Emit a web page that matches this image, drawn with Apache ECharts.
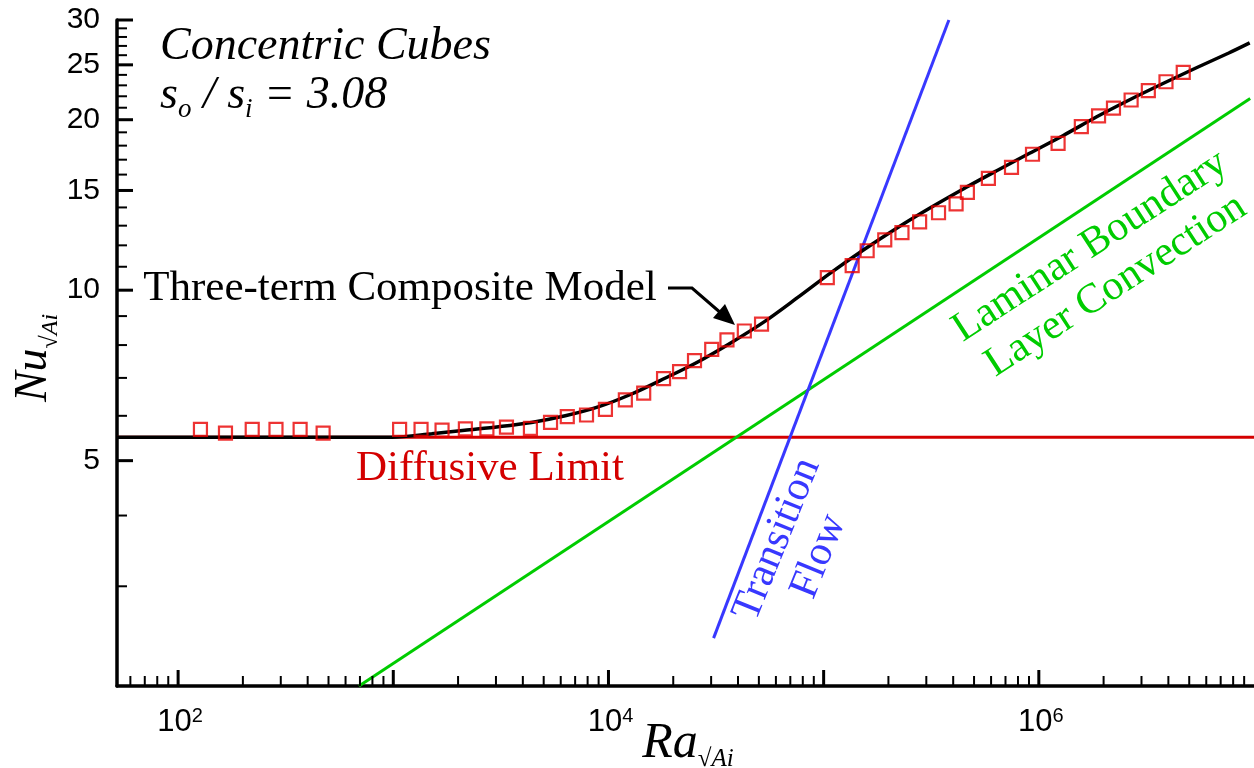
<!DOCTYPE html>
<html><head><meta charset="utf-8">
<script src="https://cdn.jsdelivr.net/npm/echarts@6/dist/echarts.min.js"></script>
<style>html,body{margin:0;padding:0;background:#fff}#c{width:1254px;height:768px}</style>
</head><body><div id="c"></div>
<script>
// ---- data ----
const dataRa = [127, 166, 221, 285, 369, 472, 1070, 1346, 1685, 2163, 2723, 3357, 4338, 5380, 6436, 7907, 9680, 11980, 14580, 18030, 21400, 25110, 30190, 35540, 42790, 51450, 104000, 135700, 159300, 192300, 231200, 279300, 341900, 412600, 465600, 583000, 746500, 934600, 1229000, 1576000, 1895000, 2223000, 2685000, 3228000, 3899000, 4690000];
const dataNu = [5.68, 5.59, 5.68, 5.68, 5.68, 5.59, 5.68, 5.68, 5.66, 5.69, 5.69, 5.73, 5.70, 5.84, 5.98, 6.02, 6.16, 6.40, 6.58, 6.98, 7.18, 7.51, 7.86, 8.17, 8.47, 8.71, 10.52, 11.05, 11.74, 12.27, 12.64, 13.20, 13.70, 14.20, 14.89, 15.76, 16.48, 17.38, 18.17, 19.44, 20.31, 20.96, 21.67, 22.51, 23.34, 24.25];

const modelRa = [52, 215, 986, 1510, 2148, 3084, 4385, 6300, 8955, 12730, 18290, 26000, 36980, 53090, 75510, 107400, 154200, 219300, 311900, 447800, 636800, 905500, 1300000, 1849000, 2630000, 3776000, 5370000, 7635000, 9550000];
const modelNu = [5.5, 5.5, 5.5, 5.58, 5.66, 5.74, 5.84, 6.0, 6.22, 6.55, 6.99, 7.47, 8.07, 8.80, 9.70, 10.72, 11.80, 12.88, 13.97, 15.11, 16.25, 17.45, 18.76, 20.22, 21.67, 23.17, 24.68, 26.23, 27.33];

const diffusiveRa = [52, 10000000];
const diffusiveNu = [5.5, 5.5];
const laminarRa = [693, 9600000];
const laminarNu = [2, 21.8];
const transitionRa = [30800, 382000];
const transitionNu = [2.43, 30];

// ---- axes / ticks ----
const X_MIN = 52, X_MAX = 10000000, Y_MIN = 2, Y_MAX = 30;
const xMajorTicks = [100, 1000, 10000, 100000, 1000000];
const xMinorTicks = [60, 70, 80, 90,
  200, 300, 400, 500, 600, 700, 800, 900,
  2000, 3000, 4000, 5000, 6000, 7000, 8000, 9000,
  20000, 30000, 40000, 50000, 60000, 70000, 80000, 90000,
  200000, 300000, 400000, 500000, 600000, 700000, 800000, 900000,
  2000000, 3000000, 4000000, 5000000, 6000000, 7000000, 8000000, 9000000];
const xLabelValues = [100, 10000, 1000000];
const xLabelExps = ['2', '4', '6'];
const yMajorTicks = [5, 10, 15, 20, 25, 30];
const yLabels = ['5', '10', '15', '20', '25', '30'];
const yMinorTicks = [3, 4, 6, 7, 8, 9, 11, 12, 13, 14, 16, 17, 18, 19, 21, 22, 23, 24, 26, 27, 28, 29];

const SERIF = 'Liberation Serif';
const SANS = 'Liberation Sans';
const RED = '#d40000', SQ = '#e80000', GREEN = '#00cc00', BLUE = '#3838ff';

const zip = (a, b) => a.map((v, i) => [v, b[i]]);

const xTickData = xMajorTicks.map(v => [v, Y_MIN, 1]).concat(xMinorTicks.map(v => [v, Y_MIN, 0]));
const yTickData = yMajorTicks.map(v => [X_MIN, v, 1]).concat(yMinorTicks.map(v => [X_MIN, v, 0]));
const xLabelData = xLabelValues.map((v, i) => [v, Y_MIN, i]);
const yLabelData = yMajorTicks.map((v, i) => [X_MIN, v, i]);

const chart = echarts.init(document.getElementById('c'), null, {renderer: 'canvas'});
chart.setOption({
  animation: false,
  backgroundColor: '#fff',
  grid: {left: 117, top: 20, width: 1141, height: 666, containLabel: false},
  xAxis: {
    type: 'log', logBase: 10, min: X_MIN, max: X_MAX,
    axisLine: {show: true, onZero: false, lineStyle: {color: '#000', width: 3.5}},
    axisTick: {show: false}, axisLabel: {show: false}, splitLine: {show: false}, minorTick: {show: false}
  },
  yAxis: {
    type: 'log', logBase: 10, min: Y_MIN, max: Y_MAX,
    axisLine: {show: true, onZero: false, lineStyle: {color: '#000', width: 3.5}},
    axisTick: {show: false}, axisLabel: {show: false}, splitLine: {show: false}, minorTick: {show: false}
  },
  series: [
    {type: 'line', name: 'Diffusive Limit', data: zip(diffusiveRa, diffusiveNu), symbol: 'none',
      lineStyle: {color: RED, width: 3}, z: 2},
    {type: 'line', name: 'Laminar Boundary Layer', data: zip(laminarRa, laminarNu), symbol: 'none',
      lineStyle: {color: GREEN, width: 3}, z: 2},
    {type: 'line', name: 'Transition Flow', data: zip(transitionRa, transitionNu), symbol: 'none',
      lineStyle: {color: BLUE, width: 3}, z: 3},
    {type: 'line', name: 'Model', data: zip(modelRa, modelNu), symbol: 'none', smooth: 0.3,
      lineStyle: {color: '#000', width: 3.5}, z: 4},
    {type: 'scatter', name: 'Data', data: zip(dataRa, dataNu), symbol: 'rect', symbolSize: 13,
      itemStyle: {color: 'rgba(0,0,0,0)', borderColor: SQ, borderWidth: 2.2}, z: 5},
    {type: 'custom', name: 'xTicks', data: xTickData, encode: {x: 0, y: 1}, z: 6, silent: true,
      renderItem: function (params, api) {
        const p = api.coord([api.value(0), api.value(1)]);
        const major = api.value(2) === 1;
        const len = major ? 16 : 10;
        return {type: 'line', shape: {x1: p[0], y1: p[1], x2: p[0], y2: p[1] - len},
          style: {stroke: '#000', lineWidth: major ? 3 : 2}};
      }},
    {type: 'custom', name: 'yTicks', data: yTickData, encode: {x: 0, y: 1}, z: 6, silent: true,
      renderItem: function (params, api) {
        const p = api.coord([api.value(0), api.value(1)]);
        const major = api.value(2) === 1;
        const len = major ? 16 : 10;
        return {type: 'line', shape: {x1: p[0], y1: p[1], x2: p[0] + len, y2: p[1]},
          style: {stroke: '#000', lineWidth: major ? 3 : 2}};
      }},
    {type: 'custom', name: 'xLabels', data: xLabelData, encode: {x: 0, y: 1}, z: 6, silent: true,
      renderItem: function (params, api) {
        const p = api.coord([api.value(0), api.value(1)]);
        const i = api.value(2);
        return {type: 'text', x: p[0] + 2, y: p[1] + 36,
          style: {text: '{a|10}{b|' + xLabelExps[i] + '}', align: 'center', verticalAlign: 'middle',
            rich: {a: {fontFamily: SANS, fontSize: 31, fill: '#000', verticalAlign: 'bottom'},
                   b: {fontFamily: SANS, fontSize: 20, fill: '#000', verticalAlign: 'top'}}}};
      }},
    {type: 'custom', name: 'yLabels', data: yLabelData, encode: {x: 0, y: 1}, z: 6, silent: true,
      renderItem: function (params, api) {
        const p = api.coord([api.value(0), api.value(1)]);
        return {type: 'text', x: p[0] - 17, y: p[1],
          style: {text: yLabels[api.value(2)], font: '30px ' + SANS, fill: '#000', align: 'right', verticalAlign: 'middle'}};
      }}
  ],
  graphic: [
    {type: 'text', x: 160, y: 47, z: 10, style: {text: 'Concentric Cubes', font: 'italic 46px ' + SERIF, fill: '#000', align: 'left', verticalAlign: 'middle'}},
    {type: 'text', x: 160, y: 96, z: 10, style: {text: '{m|s}{s|o}{m| / s}{s|i}{m| = 3.08}', align: 'left', verticalAlign: 'middle',
      rich: {m: {fontFamily: SERIF, fontStyle: 'italic', fontSize: 46, fill: '#000', verticalAlign: 'bottom'},
             s: {fontFamily: SERIF, fontStyle: 'italic', fontSize: 27, fill: '#000', verticalAlign: 'bottom', padding: [0, 0, -4, 0]}}}},
    {type: 'text', x: 400, y: 289, z: 10, style: {text: 'Three-term Composite Model', font: '43px ' + SERIF, fill: '#000', align: 'center', verticalAlign: 'middle'}},
    {type: 'polyline', z: 10, shape: {points: [[668, 288], [692, 288], [722, 314]]}, style: {stroke: '#000', lineWidth: 3, fill: null}},
    {type: 'polygon', z: 10, shape: {points: [[735, 325], [713, 318], [725, 304]]}, style: {fill: '#000'}},
    {type: 'text', x: 490, y: 469, z: 10, style: {text: 'Diffusive Limit', font: '43px ' + SERIF, fill: RED, align: 'center', verticalAlign: 'middle'}},
    {type: 'text', x: 798, y: 548, z: 10, rotation: 68 * Math.PI / 180, style: {text: 'Transition\nFlow', font: '42px ' + SERIF, lineHeight: 45, fill: BLUE, align: 'center', verticalAlign: 'middle'}},
    {type: 'text', x: 1103, y: 266, z: 10, rotation: 33 * Math.PI / 180, style: {text: 'Laminar Boundary\nLayer Convection', font: '42px ' + SERIF, lineHeight: 47, fill: GREEN, align: 'center', verticalAlign: 'middle'}},
    {type: 'text', x: 34, y: 358, z: 10, rotation: Math.PI / 2, style: {text: '{n|Nu}{s|√Ai}', align: 'center', verticalAlign: 'middle',
      rich: {n: {fontFamily: SERIF, fontStyle: 'italic', fontSize: 46, fill: '#000', verticalAlign: 'bottom'},
             s: {fontFamily: SERIF, fontStyle: 'italic', fontSize: 24, fill: '#000', verticalAlign: 'bottom', padding: [0, 0, -6, 0]}}}},
    {type: 'text', x: 688, y: 744, z: 10, style: {text: '{n|Ra}{s|√Ai}', align: 'center', verticalAlign: 'middle',
      rich: {n: {fontFamily: SERIF, fontStyle: 'italic', fontSize: 50, fill: '#000', verticalAlign: 'bottom'},
             s: {fontFamily: SERIF, fontStyle: 'italic', fontSize: 25, fill: '#000', verticalAlign: 'bottom', padding: [0, 0, -3, 0]}}}}
  ]
});
</script></body></html>
